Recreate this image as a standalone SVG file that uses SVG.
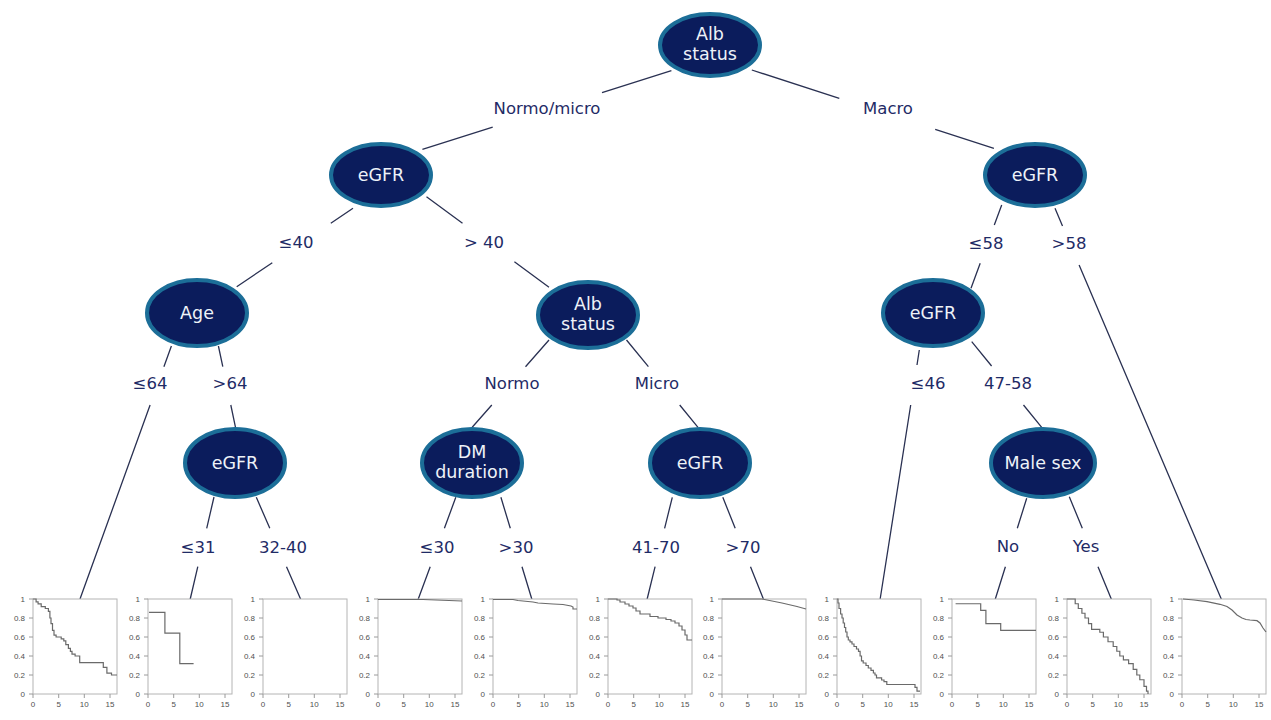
<svg xmlns="http://www.w3.org/2000/svg" width="1271" height="720" viewBox="0 0 1271 720">
<style>
.bg{fill:#ffffff}
.edge{stroke:#2a3152;stroke-width:1.3;fill:none}
.node ellipse{fill:#0b1c5c;stroke:#1c6e98;stroke-width:4}
.nt{font-family:"DejaVu Sans",Verdana,sans-serif;font-size:17.5px;fill:#eef2f8;text-anchor:middle}
.lb{font-family:"DejaVu Sans",Verdana,sans-serif;font-size:16.5px;fill:#1f2b66;text-anchor:middle}
.box{fill:#ffffff;stroke:#b4b4b4;stroke-width:1}
.tick{stroke:#9a9a9a;stroke-width:1;fill:none}
.yl{font-family:"Liberation Sans",Arial,sans-serif;font-size:8px;fill:#505050;text-anchor:end}
.xl{font-family:"Liberation Sans",Arial,sans-serif;font-size:8px;fill:#505050;text-anchor:middle}
.km{stroke:#6a6a6a;stroke-width:1.2;fill:none}
</style>
<rect class="bg" x="0" y="0" width="1271" height="720"/>

<g id="connectors">
<path class="edge" d="M671.4,70.7L602,92.6M492.7,127.1L422.4,149.3"/>
<path class="edge" d="M751.8,70L839.3,98.3M935.2,129.3L993.9,148.3"/>
<path class="edge" d="M353,208.3L330.8,223.3M272.3,262.7L236.7,286.7"/>
<path class="edge" d="M426.5,196.7L462.5,223.3M514.4,261.7L549,287.3"/>
<path class="edge" d="M1001.7,205L994.3,225M980.2,263.3L971,288.3"/>
<path class="edge" d="M1055,208.3L1062.5,226M1079.1,265L1221.7,600"/>
<path class="edge" d="M171.4,346L163.9,366.7M150.1,405L80,599"/>
<path class="edge" d="M218.4,346L222.8,366.7M230.8,405L235.5,427.3"/>
<path class="edge" d="M549,340L525.5,366.7M491.8,405L472.2,427.3"/>
<path class="edge" d="M626.5,340L648.4,366.7M679.7,405L698,427.3"/>
<path class="edge" d="M919.3,350L917,365M910.7,405L880,600"/>
<path class="edge" d="M971.7,341.7L991.6,366M1023.5,405L1041.7,427.3"/>
<path class="edge" d="M214,497L206.7,528.3M197.8,566.7L190,600"/>
<path class="edge" d="M256.3,497.3L269.8,528.3M286.5,566.7L301,600"/>
<path class="edge" d="M455.8,497.3L444.4,528.3M430.2,566.7L417.9,600"/>
<path class="edge" d="M500.9,497.3L510.3,528.3M522,566.7L532.1,600"/>
<path class="edge" d="M672.3,497.3L664.6,528.3M655.1,566.7L646.9,600"/>
<path class="edge" d="M722.8,497.3L735.2,528.3M750.5,566.7L763.8,600"/>
<path class="edge" d="M1026.7,498.3L1017.3,528.3M1005.4,566.7L995,600"/>
<path class="edge" d="M1069.3,496.7L1082.3,528.3M1098,566.7L1111.7,600"/>
</g>

<g id="edge-labels">
<text class="lb" x="547" y="114">Normo/micro</text>
<text class="lb" x="888" y="114">Macro</text>
<text class="lb" x="296" y="248">≤40</text>
<text class="lb" x="484" y="248">&gt; 40</text>
<text class="lb" x="986" y="249">≤58</text>
<text class="lb" x="1069" y="249">&gt;58</text>
<text class="lb" x="150" y="389">≤64</text>
<text class="lb" x="230" y="389">&gt;64</text>
<text class="lb" x="512" y="389">Normo</text>
<text class="lb" x="657" y="389">Micro</text>
<text class="lb" x="928" y="389">≤46</text>
<text class="lb" x="1008" y="389">47-58</text>
<text class="lb" x="198" y="553">≤31</text>
<text class="lb" x="283" y="553">32-40</text>
<text class="lb" x="437" y="553">≤30</text>
<text class="lb" x="516" y="553">&gt;30</text>
<text class="lb" x="656" y="553">41-70</text>
<text class="lb" x="743" y="553">&gt;70</text>
<text class="lb" x="1008" y="552">No</text>
<text class="lb" x="1086" y="552">Yes</text>
</g>

<g id="n-alb-root" class="node"><ellipse cx="710" cy="45" rx="50" ry="31"/><text class="nt" x="710" y="40">Alb</text><text class="nt" x="710" y="60">status</text></g>
<g id="n-egfr-l" class="node"><ellipse cx="381" cy="175" rx="50" ry="31"/><text class="nt" x="381" y="181">eGFR</text></g>
<g id="n-egfr-r" class="node"><ellipse cx="1035" cy="175" rx="50" ry="31"/><text class="nt" x="1035" y="181">eGFR</text></g>
<g id="n-age" class="node"><ellipse cx="197" cy="313" rx="50" ry="33"/><text class="nt" x="197" y="319">Age</text></g>
<g id="n-alb2" class="node"><ellipse cx="588" cy="315" rx="50" ry="33"/><text class="nt" x="588" y="310">Alb</text><text class="nt" x="588" y="330">status</text></g>
<g id="n-egfr-m" class="node"><ellipse cx="933" cy="313" rx="50" ry="33"/><text class="nt" x="933" y="319">eGFR</text></g>
<g id="n-egfr-a" class="node"><ellipse cx="235" cy="463" rx="50" ry="34"/><text class="nt" x="235" y="469">eGFR</text></g>
<g id="n-dm" class="node"><ellipse cx="472" cy="463" rx="50" ry="34"/><text class="nt" x="472" y="458">DM</text><text class="nt" x="472" y="478">duration</text></g>
<g id="n-egfr-b" class="node"><ellipse cx="700" cy="463" rx="50" ry="34"/><text class="nt" x="700" y="469">eGFR</text></g>
<g id="n-male" class="node"><ellipse cx="1043" cy="463" rx="52" ry="34"/><text class="nt" x="1043" y="469">Male sex</text></g>

<g id="charts">
<g id="c1" transform="translate(33,599)">
<rect class="box" x="0" y="0" width="84" height="95"/>
<path class="tick" d="M0,0h-4M0,19h-4M0,38h-4M0,57h-4M0,76h-4M0,95h-4M0,95v4M25.7,95v4M51.3,95v4M77,95v4"/>
<text class="yl"><tspan x="-8" y="2.8">1</tspan><tspan x="-8" y="21.8">0.8</tspan><tspan x="-8" y="40.8">0.6</tspan><tspan x="-8" y="59.8">0.4</tspan><tspan x="-8" y="78.8">0.2</tspan><tspan x="-8" y="97.8">0</tspan></text>
<text class="xl"><tspan x="0" y="108">0</tspan><tspan x="25.7" y="108">5</tspan><tspan x="51.3" y="108">10</tspan><tspan x="77" y="108">15</tspan></text>
<path class="km" d="M0,0H3.1V2.9H5.1V4.8H8.2V7.6H12.3V9.5H15.4V12.4H16.9V19H18V24.7H19.5V31.4H21V36.1H23.1V38H28.2V39.9H30.8V41.8H32.8V45.6H35.4V49.4H37.4V52.3H39V55.1H42.1V57H46.7V63.7H70.3V68.4H73.9V74.1H78.5V76H84"/>
</g>
<g id="c2" transform="translate(148,599)">
<rect class="box" x="0" y="0" width="84" height="95"/>
<path class="tick" d="M0,0h-4M0,19h-4M0,38h-4M0,57h-4M0,76h-4M0,95h-4M0,95v4M25.7,95v4M51.3,95v4M77,95v4"/>
<text class="yl"><tspan x="-8" y="2.8">1</tspan><tspan x="-8" y="21.8">0.8</tspan><tspan x="-8" y="40.8">0.6</tspan><tspan x="-8" y="59.8">0.4</tspan><tspan x="-8" y="78.8">0.2</tspan><tspan x="-8" y="97.8">0</tspan></text>
<text class="xl"><tspan x="0" y="108">0</tspan><tspan x="25.7" y="108">5</tspan><tspan x="51.3" y="108">10</tspan><tspan x="77" y="108">15</tspan></text>
<path class="km" d="M1,13.3H16.9V34.2H31.8V64.6H45.6"/>
</g>
<g id="c3" transform="translate(263,599)">
<rect class="box" x="0" y="0" width="84" height="95"/>
<path class="tick" d="M0,0h-4M0,19h-4M0,38h-4M0,57h-4M0,76h-4M0,95h-4M0,95v4M25.7,95v4M51.3,95v4M77,95v4"/>
<text class="yl"><tspan x="-8" y="2.8">1</tspan><tspan x="-8" y="21.8">0.8</tspan><tspan x="-8" y="40.8">0.6</tspan><tspan x="-8" y="59.8">0.4</tspan><tspan x="-8" y="78.8">0.2</tspan><tspan x="-8" y="97.8">0</tspan></text>
<text class="xl"><tspan x="0" y="108">0</tspan><tspan x="25.7" y="108">5</tspan><tspan x="51.3" y="108">10</tspan><tspan x="77" y="108">15</tspan></text>
</g>
<g id="c4" transform="translate(378,599)">
<rect class="box" x="0" y="0" width="84" height="95"/>
<path class="tick" d="M0,0h-4M0,19h-4M0,38h-4M0,57h-4M0,76h-4M0,95h-4M0,95v4M25.7,95v4M51.3,95v4M77,95v4"/>
<text class="yl"><tspan x="-8" y="2.8">1</tspan><tspan x="-8" y="21.8">0.8</tspan><tspan x="-8" y="40.8">0.6</tspan><tspan x="-8" y="59.8">0.4</tspan><tspan x="-8" y="78.8">0.2</tspan><tspan x="-8" y="97.8">0</tspan></text>
<text class="xl"><tspan x="0" y="108">0</tspan><tspan x="25.7" y="108">5</tspan><tspan x="51.3" y="108">10</tspan><tspan x="77" y="108">15</tspan></text>
<path class="km" d="M0,0.5H45L84,2"/>
</g>
<g id="c5" transform="translate(493,599)">
<rect class="box" x="0" y="0" width="84" height="95"/>
<path class="tick" d="M0,0h-4M0,19h-4M0,38h-4M0,57h-4M0,76h-4M0,95h-4M0,95v4M25.7,95v4M51.3,95v4M77,95v4"/>
<text class="yl"><tspan x="-8" y="2.8">1</tspan><tspan x="-8" y="21.8">0.8</tspan><tspan x="-8" y="40.8">0.6</tspan><tspan x="-8" y="59.8">0.4</tspan><tspan x="-8" y="78.8">0.2</tspan><tspan x="-8" y="97.8">0</tspan></text>
<text class="xl"><tspan x="0" y="108">0</tspan><tspan x="25.7" y="108">5</tspan><tspan x="51.3" y="108">10</tspan><tspan x="77" y="108">15</tspan></text>
<path class="km" d="M0,0.5H20L25,1.5L40,3L45,4L60,5L70,5.5L78,7L80,8V10H84"/>
</g>
<g id="c6" transform="translate(608,599)">
<rect class="box" x="0" y="0" width="84" height="95"/>
<path class="tick" d="M0,0h-4M0,19h-4M0,38h-4M0,57h-4M0,76h-4M0,95h-4M0,95v4M25.7,95v4M51.3,95v4M77,95v4"/>
<text class="yl"><tspan x="-8" y="2.8">1</tspan><tspan x="-8" y="21.8">0.8</tspan><tspan x="-8" y="40.8">0.6</tspan><tspan x="-8" y="59.8">0.4</tspan><tspan x="-8" y="78.8">0.2</tspan><tspan x="-8" y="97.8">0</tspan></text>
<text class="xl"><tspan x="0" y="108">0</tspan><tspan x="25.7" y="108">5</tspan><tspan x="51.3" y="108">10</tspan><tspan x="77" y="108">15</tspan></text>
<path class="km" d="M0,0H9V1H12V3H17V5H21V7H25V9H28V12H32V15H42V17.5H50V19H58V20.5H63V22H67V24H71V27H74V31H77V36H79V41H84"/>
</g>
<g id="c7" transform="translate(722,599)">
<rect class="box" x="0" y="0" width="84" height="95"/>
<path class="tick" d="M0,0h-4M0,19h-4M0,38h-4M0,57h-4M0,76h-4M0,95h-4M0,95v4M25.7,95v4M51.3,95v4M77,95v4"/>
<text class="yl"><tspan x="-8" y="2.8">1</tspan><tspan x="-8" y="21.8">0.8</tspan><tspan x="-8" y="40.8">0.6</tspan><tspan x="-8" y="59.8">0.4</tspan><tspan x="-8" y="78.8">0.2</tspan><tspan x="-8" y="97.8">0</tspan></text>
<text class="xl"><tspan x="0" y="108">0</tspan><tspan x="25.7" y="108">5</tspan><tspan x="51.3" y="108">10</tspan><tspan x="77" y="108">15</tspan></text>
<path class="km" d="M0,0H40L60,4L75,7.5L84,10"/>
</g>
<g id="c8" transform="translate(837,599)">
<rect class="box" x="0" y="0" width="84" height="95"/>
<path class="tick" d="M0,0h-4M0,19h-4M0,38h-4M0,57h-4M0,76h-4M0,95h-4M0,95v4M25.7,95v4M51.3,95v4M77,95v4"/>
<text class="yl"><tspan x="-8" y="2.8">1</tspan><tspan x="-8" y="21.8">0.8</tspan><tspan x="-8" y="40.8">0.6</tspan><tspan x="-8" y="59.8">0.4</tspan><tspan x="-8" y="78.8">0.2</tspan><tspan x="-8" y="97.8">0</tspan></text>
<text class="xl"><tspan x="0" y="108">0</tspan><tspan x="25.7" y="108">5</tspan><tspan x="51.3" y="108">10</tspan><tspan x="77" y="108">15</tspan></text>
<path class="km" d="M0,0H1V4H2V9.5H3.6V15H5V19H6.2V24H7.5V28.5H8.7V33H10V38H11.3V41H13V42.8H15V45H17V47.5H19.5V50H21.5V52.3H23.1V57H24.5V61.8H26.2V64H29V66.5H31.3V69H34V71.3H36.4V74H38V76H39.5V78.9H44.6V81H47V82.7H49.8V85.5H78V88.4H80V92.2H83"/>
</g>
<g id="c9" transform="translate(952,599)">
<rect class="box" x="0" y="0" width="84" height="95"/>
<path class="tick" d="M0,0h-4M0,19h-4M0,38h-4M0,57h-4M0,76h-4M0,95h-4M0,95v4M25.7,95v4M51.3,95v4M77,95v4"/>
<text class="yl"><tspan x="-8" y="2.8">1</tspan><tspan x="-8" y="21.8">0.8</tspan><tspan x="-8" y="40.8">0.6</tspan><tspan x="-8" y="59.8">0.4</tspan><tspan x="-8" y="78.8">0.2</tspan><tspan x="-8" y="97.8">0</tspan></text>
<text class="xl"><tspan x="0" y="108">0</tspan><tspan x="25.7" y="108">5</tspan><tspan x="51.3" y="108">10</tspan><tspan x="77" y="108">15</tspan></text>
<path class="km" d="M3.6,4.75H28.7V11.4H33.9V24.7H48.7V31.4H84"/>
</g>
<g id="c10" transform="translate(1067,599)">
<rect class="box" x="0" y="0" width="84" height="95"/>
<path class="tick" d="M0,0h-4M0,19h-4M0,38h-4M0,57h-4M0,76h-4M0,95h-4M0,95v4M25.7,95v4M51.3,95v4M77,95v4"/>
<text class="yl"><tspan x="-8" y="2.8">1</tspan><tspan x="-8" y="21.8">0.8</tspan><tspan x="-8" y="40.8">0.6</tspan><tspan x="-8" y="59.8">0.4</tspan><tspan x="-8" y="78.8">0.2</tspan><tspan x="-8" y="97.8">0</tspan></text>
<text class="xl"><tspan x="0" y="108">0</tspan><tspan x="25.7" y="108">5</tspan><tspan x="51.3" y="108">10</tspan><tspan x="77" y="108">15</tspan></text>
<path class="km" d="M0,0H8.2V4.75H11.3V9.5H14.9V14.25H18V19H21.5V24.7H24.6V30.4H32.8V33.25H36.4V38H41V42.75H46.2V47.5H49.8V52.25H52.8V57H56.4V60.8H61.6V64.6H66.2V70.3H69.8V76H72.8V80.75H77V87.4H79.5V92.15H81V95"/>
</g>
<g id="c11" transform="translate(1182,599)">
<rect class="box" x="0" y="0" width="84" height="95"/>
<path class="tick" d="M0,0h-4M0,19h-4M0,38h-4M0,57h-4M0,76h-4M0,95h-4M0,95v4M25.7,95v4M51.3,95v4M77,95v4"/>
<text class="yl"><tspan x="-8" y="2.8">1</tspan><tspan x="-8" y="21.8">0.8</tspan><tspan x="-8" y="40.8">0.6</tspan><tspan x="-8" y="59.8">0.4</tspan><tspan x="-8" y="78.8">0.2</tspan><tspan x="-8" y="97.8">0</tspan></text>
<text class="xl"><tspan x="0" y="108">0</tspan><tspan x="25.7" y="108">5</tspan><tspan x="51.3" y="108">10</tspan><tspan x="77" y="108">15</tspan></text>
<path class="km" d="M1,0L12,1L25,2.7L38,5.3L45,7.5L50,11L55,16L60,19L64,20.5L68,21L75,21.7L78,24L81,29L84,33"/>
</g>
</g>
</svg>
